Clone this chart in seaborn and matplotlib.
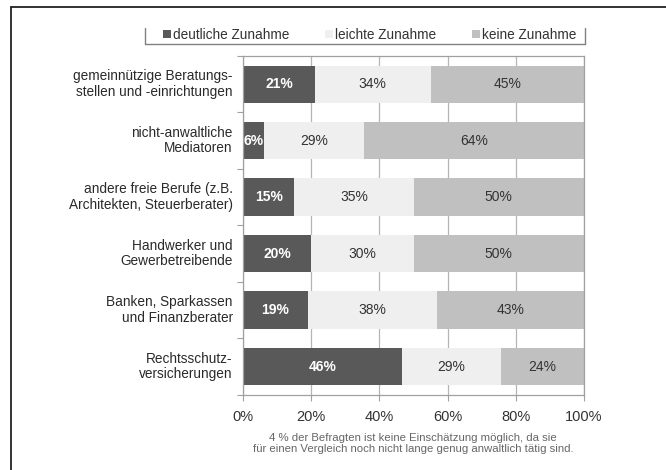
import numpy as np
import pandas as pd
import matplotlib
matplotlib.use("Agg")
import matplotlib.pyplot as plt
import seaborn as sns
from matplotlib.patches import Patch
from matplotlib.lines import Line2D

categories = [
    "gemeinnützige Beratungs-\nstellen und -einrichtungen",
    "nicht-anwaltliche\nMediatoren",
    "andere freie Berufe (z.B.\nArchitekten, Steuerberater)",
    "Handwerker und\nGewerbetreibende",
    "Banken, Sparkassen\nund Finanzberater",
    "Rechtsschutz-\nversicherungen",
]
deutliche = [21, 6, 15, 20, 19, 46]
leichte = [34, 29, 35, 30, 38, 29]
keine = [45, 64, 50, 50, 43, 24]
series_names = ["deutliche Zunahme", "leichte Zunahme", "keine Zunahme"]
colors = ["#595959", "#efefef", "#c0c0c0"]
text_colors = ["white", "#333333", "#333333"]
ticks = [0, 20, 40, 60, 80, 100]

sns.set_style("white")
plt.rcParams["font.family"] = ["Liberation Sans", "DejaVu Sans"]

vals = np.array([deutliche, leichte, keine], dtype=float)
shares = vals / vals.sum(axis=0) * 100
cum = np.cumsum(shares, axis=0)

fig = plt.figure(figsize=(6.66, 4.70), dpi=100)
ax = fig.add_axes([0.365, 0.160, 0.512, 0.721])

# stacked bars: draw cumulative totals from the back to the front
for i in [2, 1, 0]:
    df = pd.DataFrame({"cat": categories, "val": cum[i]})
    sns.barplot(data=df, x="val", y="cat", color=colors[i], orient="h",
                width=0.66, saturation=1, ax=ax, zorder=2, edgecolor="none")

for i in range(3):
    for j in range(len(categories)):
        start = cum[i][j] - shares[i][j]
        ax.text(start + shares[i][j] / 2, j, f"{int(vals[i][j])}%",
                ha="center", va="center", fontsize=10, color=text_colors[i],
                fontweight="bold" if i == 0 else "normal", zorder=3)

ax.set_xlim(0, 100)
ax.set_ylim(len(categories) - 0.5, -0.5)
ax.set_xticks(ticks)
ax.set_xticklabels([f"{t}%" for t in ticks], fontsize=10.5, color="#333333")
ax.set_yticks(np.arange(len(categories) + 1) - 0.5, minor=False)
ax.set_yticklabels([])
for j, c in enumerate(categories):
    ax.text(-3, j, c, ha="right", va="center", fontsize=9.8, color="#2a2a2a",
            linespacing=1.15)
ax.set_xlabel("")
ax.set_ylabel("")
ax.xaxis.grid(True, color="#b5b5b5", linewidth=0.9, zorder=0)
ax.set_axisbelow(True)
for s in ax.spines.values():
    s.set_color("#a0a0a0")
    s.set_linewidth(0.9)
ax.tick_params(axis="x", length=4, color="#a0a0a0", pad=7, bottom=True)
ax.tick_params(axis="y", length=4, color="#a0a0a0", left=True)

handles = [Patch(facecolor=c, edgecolor="none") for c in colors]
fig.legend(handles, series_names, loc="center", bbox_to_anchor=(0.555, 0.926),
           ncol=3, frameon=False, fontsize=9.8, handlelength=0.6,
           handleheight=0.6, handletextpad=0.15, columnspacing=2.6,
           labelcolor="#333333")

lc = "#808080"
fig.add_artist(Line2D([0.218, 0.218], [0.906, 0.94], color=lc, lw=1))
fig.add_artist(Line2D([0.218, 0.879], [0.906, 0.906], color=lc, lw=1))
fig.add_artist(Line2D([0.879, 0.879], [0.906, 0.94], color=lc, lw=1))

fig.add_artist(Line2D([0.017, 0.017], [0, 0.985], color="#222222", lw=1.3))
fig.add_artist(Line2D([0.017, 1.0], [0.985, 0.985], color="#222222", lw=1.3))

fig.text(0.62, 0.056,
         "4 % der Befragten ist keine Einschätzung möglich, da sie\n"
         "für einen Vergleich noch nicht lange genug anwaltlich tätig sind.",
         ha="center", va="center", fontsize=8.2, color="#666666",
         linespacing=1.2)

fig.savefig("out.png", dpi=100)
